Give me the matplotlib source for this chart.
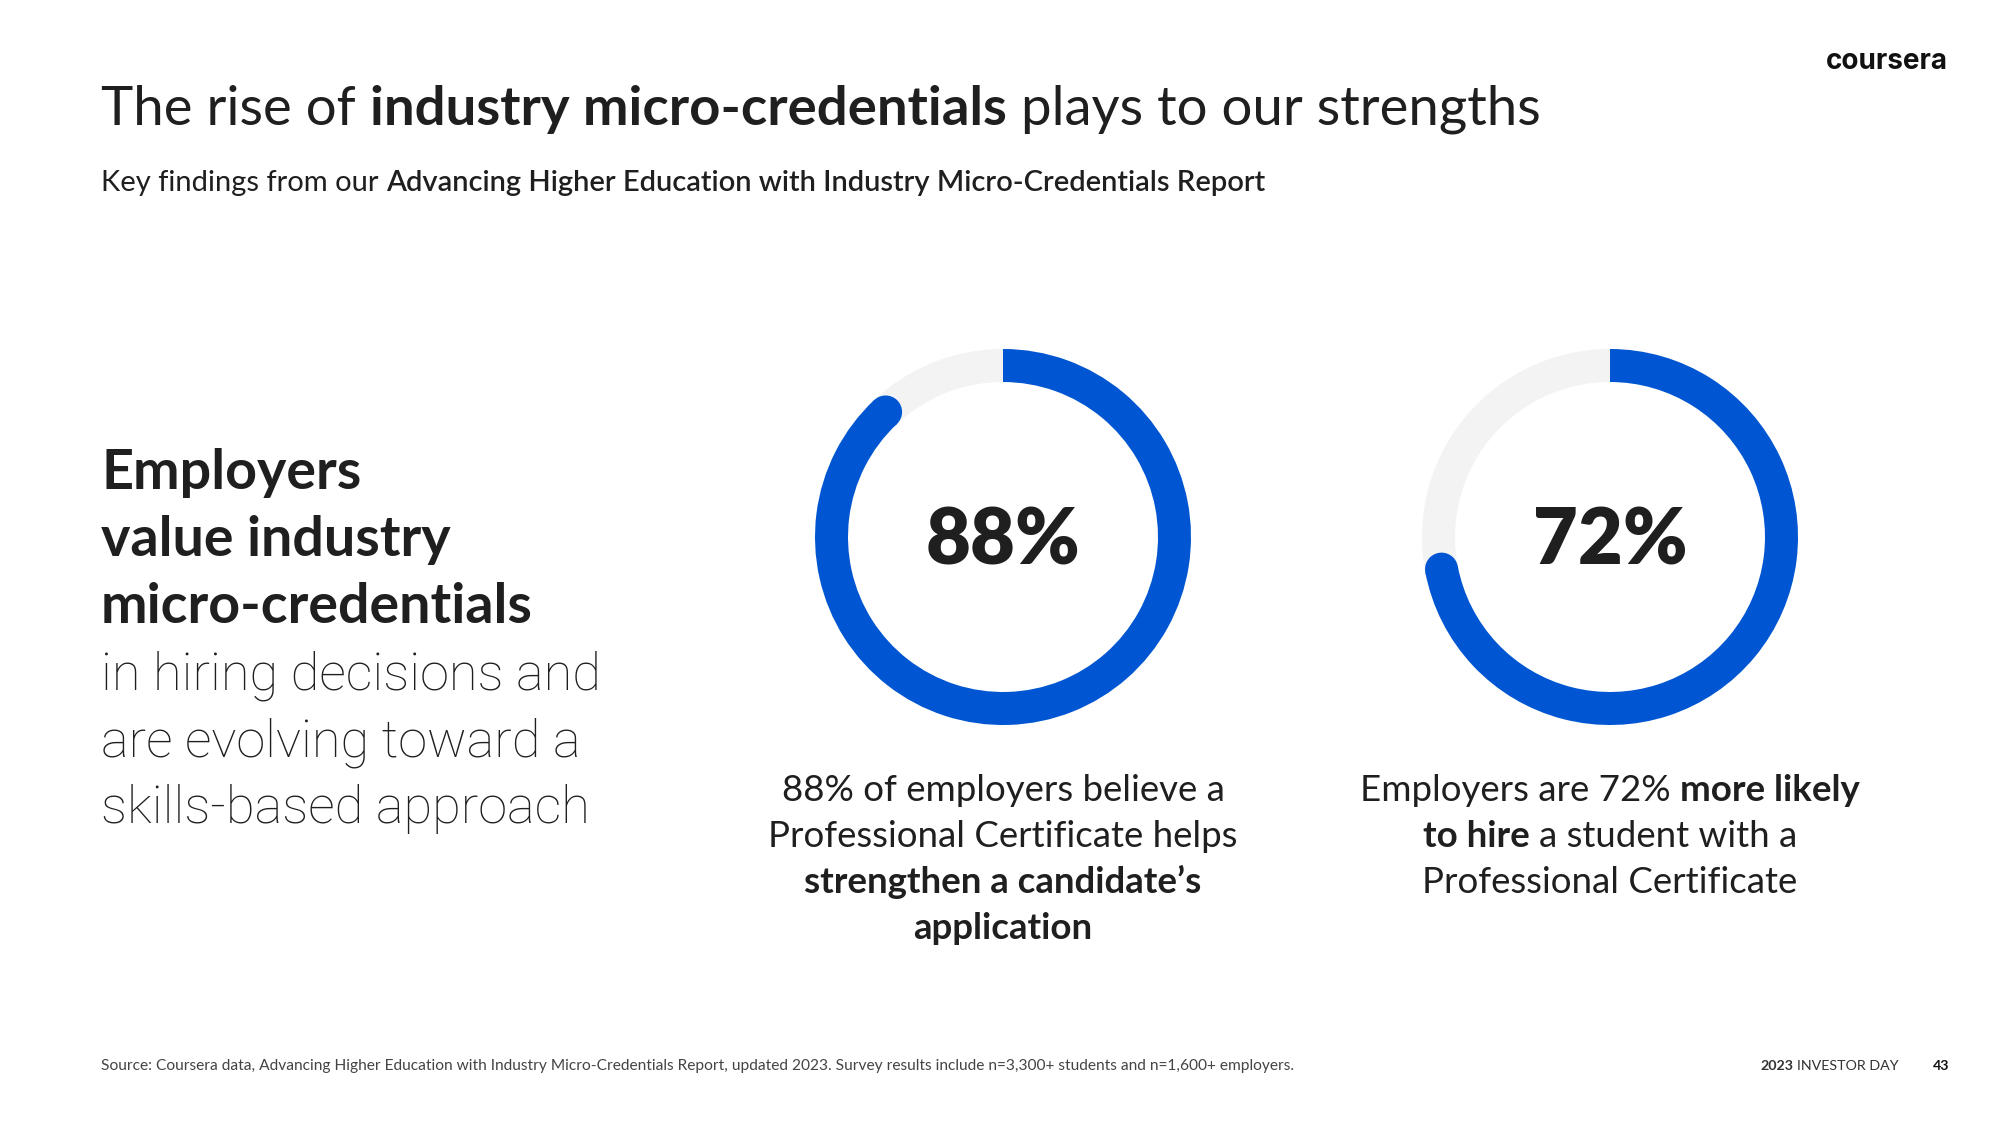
import math
import matplotlib
matplotlib.use("Agg")
import matplotlib.pyplot as plt
from matplotlib.patches import Wedge, Circle

# ---------------- data ----------------
percent_values = [88, 72]
center_labels = ["88%", "72%"]
caption_lines = [
    [[("88% of employers believe a", "normal")],
     [("Professional Certificate helps", "normal")],
     [("strengthen a candidate\u2019s", "bold")],
     [("application", "bold")]],
    [[("Employers are 72%", "normal"), ("more likely", "bold")],
     [("to hire", "bold"), ("a student with a", "normal")],
     [("Professional Certificate", "normal")]],
]
title_segments = [("The rise of", "normal"), ("industry micro-credentials", "bold"),
                  ("plays to our strengths", "normal")]
subtitle_segments = [("Key findings from our", "normal"),
                     ("Advancing Higher Education with Industry Micro-Credentials Report", "semibold")]
left_bold_lines = ["Employers", "value industry", "micro-credentials"]
left_light_lines = ["in hiring decisions and", "are evolving toward a", "skills-based approach"]
source_text = ("Source: Coursera data, Advancing Higher Education with Industry Micro-Credentials "
               "Report, updated 2023. Survey results include n=3,300+ students and n=1,600+ employers.")
footer_year = "2023"
footer_event = "INVESTOR DAY"
page_number = "43"
logo_text = "coursera"

# ---------------- style ----------------
W, H = 2000, 1125
FONT = "Lato"
LIGHT_FONT = "Roboto"
TXT = "#1f1f1f"
BLUE = "#0056D2"
GRAY = "#F3F3F3"

fig = plt.figure(figsize=(20, 11.25), dpi=100)
ax = fig.add_axes([0, 0, 1, 1])
ax.set_xlim(0, W)
ax.set_ylim(H, 0)
ax.axis("off")
fig.patch.set_facecolor("white")
R = fig.canvas.get_renderer()


def seg_width(s, size, weight, family=FONT):
    t = ax.text(0, 0, s, fontsize=size, fontweight=weight, family=family)
    w = t.get_window_extent(R).width
    t.remove()
    return w


def line_width(segs, size, family=FONT):
    sp = seg_width("a a", size, "normal", family) - seg_width("aa", size, "normal", family)
    widths = [seg_width(s, size, w, family) for s, w in segs]
    return sum(widths) + sp * (len(segs) - 1), widths, sp


def fit(segs, target, size0=30, family=FONT):
    tot, _, _ = line_width(segs, size0, family)
    return size0 * target / tot


def rich(x, y, segs, size, ha="left", color=TXT, family=FONT):
    tot, widths, sp = line_width(segs, size, family)
    x0 = x - tot / 2 if ha == "center" else (x - tot if ha == "right" else x)
    for (s, w), wd in zip(segs, widths):
        ax.text(x0, y, s, fontsize=size, fontweight=w, family=family, color=color,
                ha="left", va="baseline")
        x0 += wd + sp


# title & subtitle
ts = fit(title_segments, 1437)
rich(101, 125, title_segments, ts)
ss = fit(subtitle_segments, 1163)
rich(101, 191, subtitle_segments, ss)

# logo
ls = fit([(logo_text, "bold")], 122, family="Inter")
ax.text(1948, 69, logo_text, fontsize=ls, fontweight="bold", family="Inter", color="#111111",
        ha="right", va="baseline")

# left block
bsz = fit([(left_bold_lines[2], "bold")], 432)
lsz = fit([(left_light_lines[0], "light")], 500, family=LIGHT_FONT)
for i, s in enumerate(left_bold_lines):
    ax.text(101, 489 + i * 66.8, s, fontsize=bsz, fontweight="bold", family=FONT, color=TXT,
            ha="left", va="baseline")
for i, s in enumerate(left_light_lines):
    ax.text(101, 489 + (i + 3) * 66.8, s, fontsize=lsz, fontweight="light", family=LIGHT_FONT,
            color=TXT, ha="left", va="baseline")

# donuts
centers = [(1003, 537), (1610, 537)]
r_out, ring = 188, 33
csz = fit([(center_labels[0], "bold")], 150)
cap_size = fit(caption_lines[0][1], 469)
for (cx, cy), v, lab, cap in zip(centers, percent_values, center_labels, caption_lines):
    ax.add_patch(Wedge((cx, cy), r_out, 0, 360, width=ring, facecolor=GRAY, edgecolor="none"))
    th1 = -90
    th2 = -90 + 360 * v / 100
    ax.add_patch(Wedge((cx, cy), r_out, th1, th2, width=ring, facecolor=BLUE, edgecolor="none"))
    rm = r_out - ring / 2
    ex = cx + rm * math.cos(math.radians(th2))
    ey = cy + rm * math.sin(math.radians(th2))
    ax.add_patch(Circle((ex, ey), ring / 2, facecolor=BLUE, edgecolor="none"))
    ax.text(cx, cy + 5, lab, fontsize=csz * 1.02, fontweight="heavy", family=FONT, color=TXT,
            ha="center", va="center")
    for j, segs in enumerate(cap):
        rich(cx, 801 + j * 46, segs, cap_size, ha="center")

# footer
fs = fit([(source_text, "normal")], 1197)
ax.text(101, 1070, source_text, fontsize=fs, family=FONT, color="#444444",
        ha="left", va="baseline")
fsz = fit([(footer_year, "bold"), (footer_event, "normal")], 139)
rich(1760, 1070, [(footer_year, "bold"), (footer_event, "normal")], fsz, color="#333333")
ax.text(1949, 1070, page_number, fontsize=fsz, fontweight="bold", family=FONT, color="#111111",
        ha="right", va="baseline")

fig.savefig("out.png", dpi=100, facecolor="white")
